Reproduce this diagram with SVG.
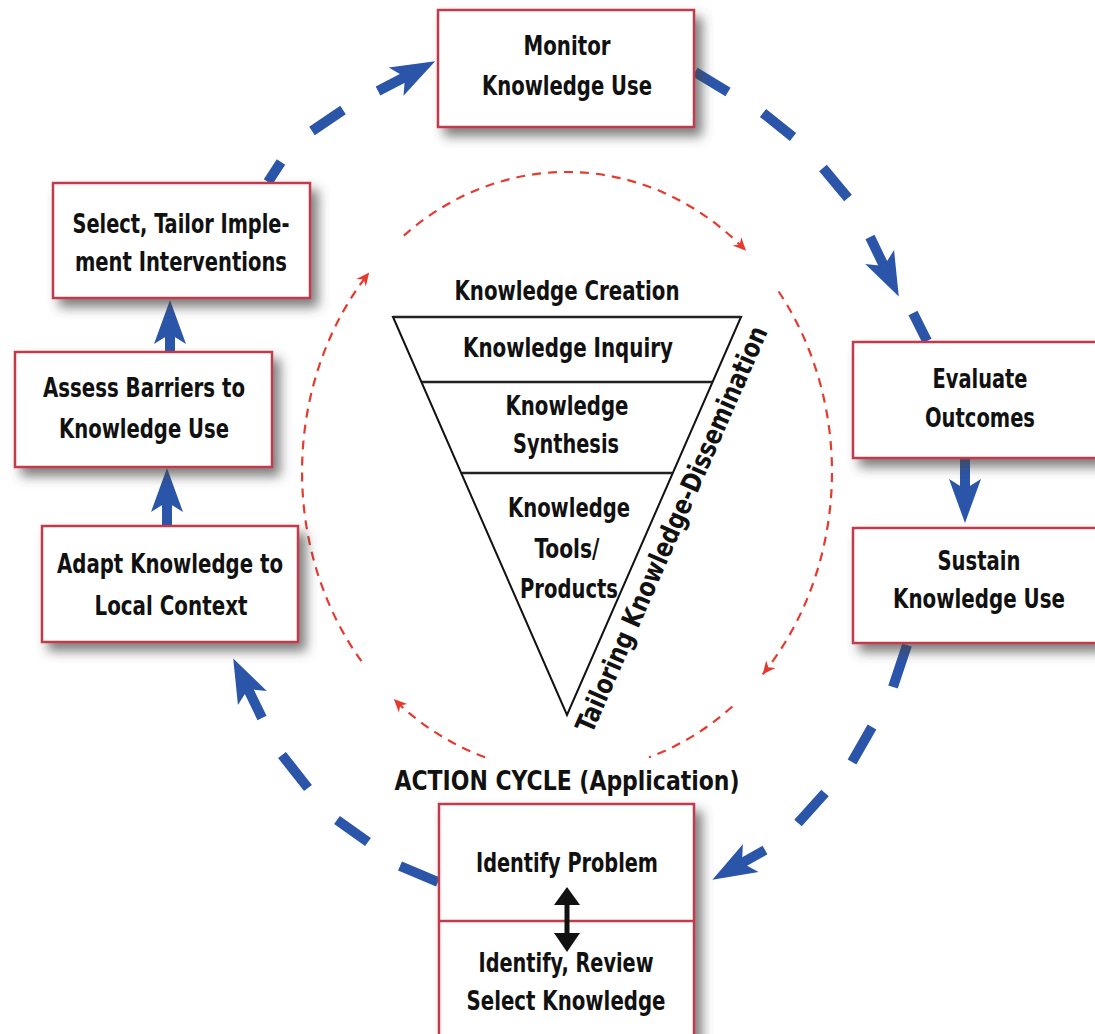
<svg xmlns="http://www.w3.org/2000/svg" width="1095" height="1034" viewBox="0 0 1095 1034">
<style>
.box{fill:#fff;stroke:#c23b4b;stroke-width:2.5;filter:url(#sh)}
.t{font-family:"Liberation Sans Narrow","DejaVu Sans Condensed","Liberation Sans",sans-serif;font-weight:bold;font-size:27px;fill:#111;text-anchor:middle}
.blue{fill:none;stroke:#2b55a9;stroke-width:10}
.red{fill:none;stroke:#e53a2f;stroke-width:2.2;stroke-dasharray:9 7}
.tri{fill:#fff;stroke:#111;stroke-width:2}
.div{stroke:#222;stroke-width:2.5}
</style>
<defs>
<filter id="sh" x="-20%" y="-20%" width="150%" height="160%">
<feDropShadow dx="7" dy="8" stdDeviation="6" flood-color="#444" flood-opacity="0.7"/>
</filter>
<marker id="bh" markerUnits="userSpaceOnUse" markerWidth="48" markerHeight="36" viewBox="-12 -18 48 36" refX="0" refY="0" orient="auto">
<path d="M34,0 L-10,-16 L0,0 L-10,16 Z" fill="#2b55a9"/>
</marker>
<marker id="rh" markerUnits="userSpaceOnUse" markerWidth="16" markerHeight="14" viewBox="-14 -7 16 14" refX="0" refY="0" orient="auto">
<path d="M0,0 L-13,-6 L-9,0 L-13,6 Z" fill="#e53a2f"/>
</marker>
</defs>
<rect width="1095" height="1034" fill="#fff"/>

<g id="connectors">
<path class="blue" marker-end="url(#bh)" d="M268,182 L281,162 M312,131 L343,110 M378,91 L405,77"/>
<path class="blue" marker-end="url(#bh)" d="M913,313 L927,341 M695,72 L728,92 M763,113 L793,137 M823,168 L848,198 M870,237 L884,266"/>
<path class="blue" marker-end="url(#bh)" d="M965,459 L965,489"/>
<path class="blue" marker-end="url(#bh)" d="M907,645 L893,687 M872,727 L852,762 M825,793 L798,823 M765,850 L742,863"/>
<path class="blue" marker-end="url(#bh)" d="M438,882 L400,866 M368,842 L337,820 M308,788 L282,755 M262,718 L248,689"/>
<path class="blue" marker-end="url(#bh)" d="M167,526 L167,502"/>
<path class="blue" marker-end="url(#bh)" d="M170,352 L170,334"/>
<path class="red" marker-end="url(#rh)" d="M403.8,235.6 A265 300 0 0 1 746,250.8"/>
<path class="red" marker-end="url(#rh)" d="M778.6,291.5 A265 300 0 0 1 762.7,674.3"/>
<path class="red" d="M732.3,706.5 A265 300 0 0 1 648.9,757.3"/>
<path class="red" marker-end="url(#rh)" d="M485.1,757.3 A265 300 0 0 1 393.8,699.1"/>
<path class="red" marker-end="url(#rh)" d="M361.4,661.2 A265 300 0 0 1 369.2,272.4"/>
</g>

<g id="monitor">
<rect class="box" x="438" y="10" width="256" height="117"/>
<text class="t" x="567" y="55" textLength="87" lengthAdjust="spacingAndGlyphs">Monitor</text>
<text class="t" x="567" y="95" textLength="170" lengthAdjust="spacingAndGlyphs">Knowledge Use</text>
</g>
<g id="select">
<rect class="box" x="53" y="183" width="257" height="115"/>
<text class="t" x="181" y="233" textLength="217" lengthAdjust="spacingAndGlyphs">Select, Tailor Imple-</text>
<text class="t" x="181" y="271" textLength="212" lengthAdjust="spacingAndGlyphs">ment Interventions</text>
</g>
<g id="assess">
<rect class="box" x="15" y="352" width="257" height="115"/>
<text class="t" x="144" y="397" textLength="202" lengthAdjust="spacingAndGlyphs">Assess Barriers to</text>
<text class="t" x="144" y="438" textLength="170" lengthAdjust="spacingAndGlyphs">Knowledge Use</text>
</g>
<g id="adapt">
<rect class="box" x="42" y="526" width="256" height="116"/>
<text class="t" x="170" y="573" textLength="226" lengthAdjust="spacingAndGlyphs">Adapt Knowledge to</text>
<text class="t" x="171" y="615" textLength="153" lengthAdjust="spacingAndGlyphs">Local Context</text>
</g>
<g id="evaluate">
<rect class="box" x="853" y="342" width="245" height="116"/>
<text class="t" x="980" y="388" textLength="95" lengthAdjust="spacingAndGlyphs">Evaluate</text>
<text class="t" x="980" y="427" textLength="110" lengthAdjust="spacingAndGlyphs">Outcomes</text>
</g>
<g id="sustain">
<rect class="box" x="853" y="528" width="245" height="115"/>
<text class="t" x="979" y="570" textLength="83" lengthAdjust="spacingAndGlyphs">Sustain</text>
<text class="t" x="979" y="608" textLength="172" lengthAdjust="spacingAndGlyphs">Knowledge Use</text>
</g>
<g id="identify">
<rect class="box" x="439" y="804" width="255" height="250"/>
<line x1="439" y1="921" x2="694" y2="921" stroke="#c23b4b" stroke-width="2.5"/>
<text class="t" x="567" y="872" textLength="182" lengthAdjust="spacingAndGlyphs">Identify Problem</text>
<text class="t" x="566" y="972" textLength="175" lengthAdjust="spacingAndGlyphs">Identify, Review</text>
<text class="t" x="566" y="1010" textLength="199" lengthAdjust="spacingAndGlyphs">Select Knowledge</text>
<path d="M567,887 L580,905 L569.5,905 L569.5,933 L580,933 L567,952 L554,933 L564.5,933 L564.5,905 L554,905 Z" fill="#111"/>
</g>
<g id="action-cycle">
<text class="t" x="567" y="790" textLength="345" lengthAdjust="spacingAndGlyphs">ACTION CYCLE (Application)</text>
</g>

<g id="knowledge-creation">
<text class="t" x="567" y="300" textLength="225" lengthAdjust="spacingAndGlyphs">Knowledge Creation</text>
<path class="tri" d="M393,317 L741,317 L567,715 Z"/>
<line class="div" x1="393" y1="317" x2="741" y2="317"/>
<line class="div" x1="422" y1="382" x2="712" y2="382"/>
<line class="div" x1="462" y1="473" x2="672" y2="473"/>
<text class="t" x="568" y="357" textLength="210" lengthAdjust="spacingAndGlyphs">Knowledge Inquiry</text>
<text class="t" x="567" y="415" textLength="123" lengthAdjust="spacingAndGlyphs">Knowledge</text>
<text class="t" x="566" y="453" textLength="106" lengthAdjust="spacingAndGlyphs">Synthesis</text>
<text class="t" x="569" y="517" textLength="122" lengthAdjust="spacingAndGlyphs">Knowledge</text>
<text class="t" x="567" y="558" textLength="65" lengthAdjust="spacingAndGlyphs">Tools/</text>
<text class="t" x="569" y="598" textLength="98" lengthAdjust="spacingAndGlyphs">Products</text>
<text class="t" x="680" y="533" transform="rotate(-66.4 680 533)" textLength="440" lengthAdjust="spacingAndGlyphs">Tailoring Knowledge-Dissemination</text>
</g>
</svg>
